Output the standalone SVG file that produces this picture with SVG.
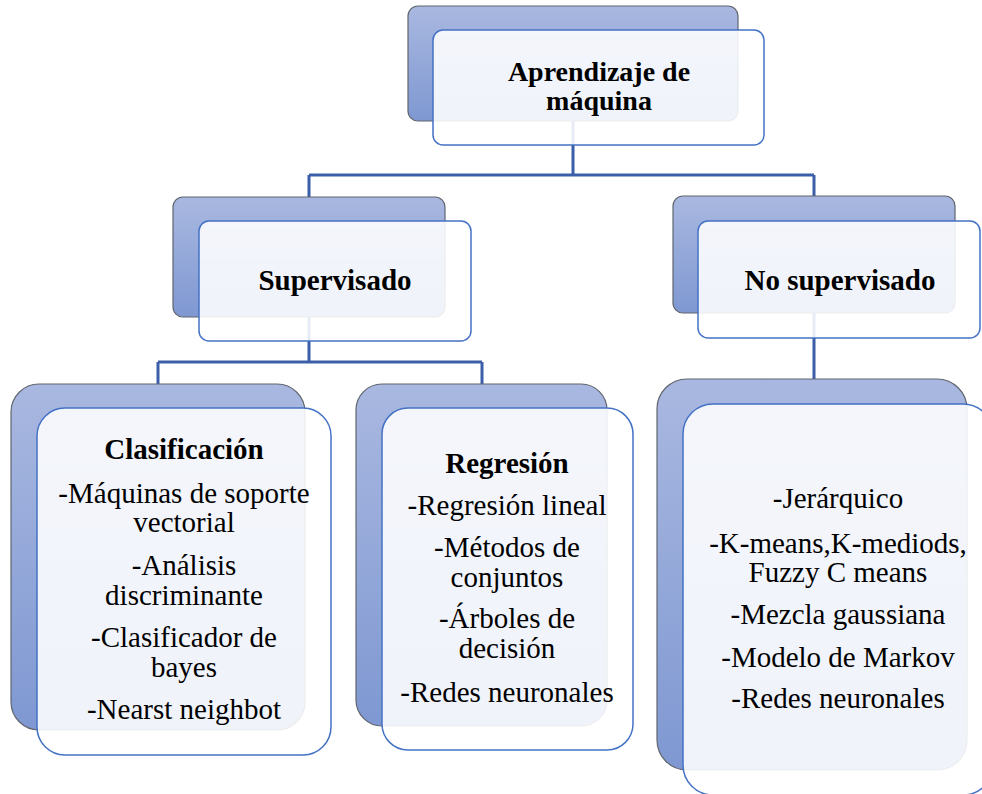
<svg xmlns="http://www.w3.org/2000/svg" width="982" height="794" viewBox="0 0 982 794">
<defs>
<linearGradient id="bg" x1="0" y1="0" x2="0" y2="1">
<stop offset="0" stop-color="#a9b8e0"/>
<stop offset="1" stop-color="#7f98d2"/>
</linearGradient>
</defs>
<style>
.back{fill:url(#bg);stroke:#60656e;stroke-width:1.2}
.front{fill:#ffffff;fill-opacity:0.88;stroke:#4472c4;stroke-width:1.5}
.conn{fill:none;stroke:#3a5fa8;stroke-width:3}
text{font-family:"Liberation Serif","Times New Roman",serif;font-size:29px;fill:#000;text-anchor:middle}
.b{font-weight:bold}
.r{font-size:28px}
</style>
<rect width="982" height="794" fill="#ffffff"/>
<g id="connectors">
<path class="conn" d="M573,63 V175 M309,175 H814 M309,175 V257 M814,175 V400"/>
<path class="conn" d="M309,257 V362 M158,362 H482 M158,362 V400 M482,362 V400"/>
</g>
<g id="n-root">
<rect class="back" x="408" y="6" width="330" height="115" rx="10"/>
<rect class="front" x="433" y="30" width="331" height="115" rx="10"/>
<text class="b r" x="599" y="81">Aprendizaje de</text>
<text class="b r" x="599" y="110">máquina</text>
</g>
<g id="n-supervisado">
<rect class="back" x="173" y="197" width="272" height="120" rx="10"/>
<rect class="front" x="199" y="221" width="272" height="120" rx="10"/>
<text class="b" x="335" y="290">Supervisado</text>
</g>
<g id="n-nosupervisado">
<rect class="back" x="673" y="196" width="282" height="117" rx="10"/>
<rect class="front" x="698" y="221" width="282" height="117" rx="10"/>
<text class="b" x="840" y="290">No supervisado</text>
</g>
<g id="n-clasificacion">
<rect class="back" x="11" y="384" width="294" height="346" rx="28"/>
<rect class="front" x="37" y="408" width="294" height="347" rx="28"/>
<text class="b" x="184" y="459">Clasificación</text>
<text x="184" y="503">-Máquinas de soporte</text>
<text x="184" y="532">vectorial</text>
<text x="184" y="575">-Análisis</text>
<text x="184" y="605">discriminante</text>
<text x="184" y="647">-Clasificador de</text>
<text x="184" y="677">bayes</text>
<text x="184" y="719">-Nearst neighbot</text>
</g>
<g id="n-regresion">
<rect class="back" x="356" y="384" width="251" height="342" rx="26"/>
<rect class="front" x="382" y="408" width="251" height="342" rx="26"/>
<text class="b" x="507" y="473">Regresión</text>
<text x="507" y="515">-Regresión lineal</text>
<text x="507" y="557">-Métodos de</text>
<text x="507" y="587">conjuntos</text>
<text x="507" y="628">-Árboles de</text>
<text x="507" y="658">decisión</text>
<text x="507" y="702">-Redes neuronales</text>
</g>
<g id="n-nosup-list">
<rect class="back" x="657" y="379" width="310" height="391" rx="30"/>
<rect class="front" x="683" y="404" width="310" height="391" rx="30"/>
<text x="838" y="508">-Jerárquico</text>
<text x="838" y="553">-K-means,K-mediods,</text>
<text x="838" y="582">Fuzzy C means</text>
<text x="838" y="624">-Mezcla gaussiana</text>
<text x="838" y="667">-Modelo de Markov</text>
<text x="838" y="708">-Redes neuronales</text>
</g>
</svg>
